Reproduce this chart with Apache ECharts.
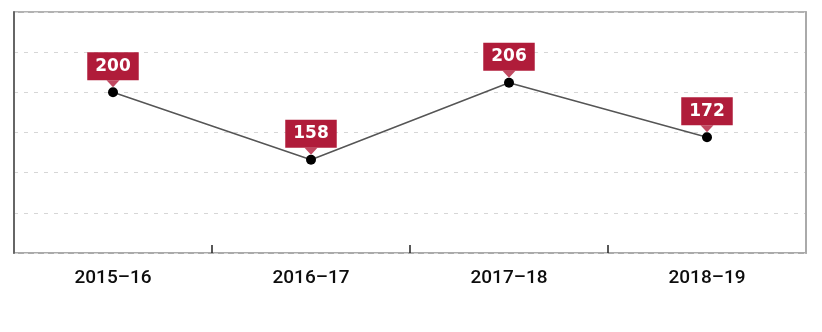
<!DOCTYPE html>
<html>
<head>
<meta charset="utf-8">
<script src="https://cdn.jsdelivr.net/npm/echarts@6/dist/echarts.min.js"></script>
<style>
  html, body { margin: 0; padding: 0; background: #fff; }
  #chart { width: 822px; height: 332px; }
</style>
</head>
<body>
<div id="chart"></div>
<script>
// School years and the yearly totals plotted for each
const years = ['2015–16', '2016–17', '2017–18', '2018–19'];
const totals = [200, 158, 206, 172];

// Value axis range (values hidden; only the dashed guides show)
const yMin = 100;
const yMax = 250;
const yStep = 25;

const labelRed = '#b01c3a';

const chart = echarts.init(document.getElementById('chart'));

chart.setOption({
  animation: false,
  grid: { left: 14, right: 16, top: 12, bottom: 79, show: false },
  xAxis: [
    {
      type: 'category',
      data: years,
      boundaryGap: true,
      z: 2,
      axisLine: { show: true, lineStyle: { color: '#aaaaaa', width: 2 } },
      axisTick: { show: true, inside: true, length: 8, lineStyle: { color: '#222', width: 1.5 } },
      axisLabel: {
        color: '#0d0d0d',
        fontFamily: 'Roboto',
        fontWeight: 500,
        fontSize: 19,
        margin: 16
      },
      splitLine: { show: false }
    },
    {
      // top frame edge
      type: 'category',
      data: years,
      position: 'top',
      z: 2,
      axisLine: { show: true, lineStyle: { color: '#999999', width: 1.5 } },
      axisTick: { show: false },
      axisLabel: { show: false },
      splitLine: { show: false }
    }
  ],
  yAxis: [
    {
      type: 'value',
      min: yMin,
      max: yMax,
      interval: yStep,
      z: 3,
      axisLine: { show: true, lineStyle: { color: '#666666', width: 2 } },
      axisTick: { show: false },
      axisLabel: { show: false },
      splitLine: { show: true, lineStyle: { color: '#d6d6d6', type: [4, 6], width: 1 } }
    },
    {
      // right frame edge
      type: 'value',
      position: 'right',
      min: yMin,
      max: yMax,
      interval: yStep,
      z: 3,
      axisLine: { show: true, lineStyle: { color: '#aaaaaa', width: 2 } },
      axisTick: { show: false },
      axisLabel: { show: false },
      splitLine: { show: false }
    }
  ],
  series: [
    {
      // pointer under each value tag
      type: 'scatter',
      data: totals,
      symbol: 'triangle',
      symbolRotate: 180,
      symbolSize: [13, 7],
      symbolOffset: [0, -8.5],
      itemStyle: { color: labelRed },
      silent: true,
      z: 3
    },
    {
      type: 'line',
      data: totals,
      symbol: 'circle',
      symbolSize: 10,
      lineStyle: { color: '#555555', width: 1.5 },
      itemStyle: { color: '#000000' },
      label: {
        show: true,
        position: 'top',
        distance: 7,
        color: '#ffffff',
        fontFamily: 'DejaVu Sans',
        fontWeight: 'bold',
        fontSize: 17,
        lineHeight: 20,
        backgroundColor: labelRed,
        padding: [4, 8, 4, 8]
      },
      z: 4
    }
  ]
});
</script>
</body>
</html>
